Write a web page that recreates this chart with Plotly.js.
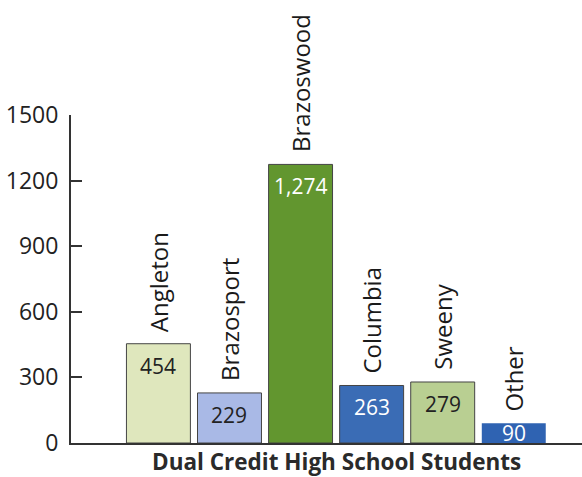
<!DOCTYPE html>
<html><head><meta charset="utf-8">
<script src="https://cdn.plot.ly/plotly-3.0.1.min.js"></script>
<style>html,body{margin:0;padding:0;background:#fff}#chart{width:582px;height:477px}</style>
</head><body><div id="chart"></div>
<script>
const categories = ["Angleton", "Brazosport", "Brazoswood", "Columbia", "Sweeny", "Other"];
const values = [454, 229, 1274, 263, 279, 90];
const valueLabels = ["454", "229", "1,274", "263", "279", "90"];
const barColors = ["#dfe7bd", "#a9b9e6", "#62962f", "#3a6cb5", "#b9cf92", "#2f63b2"];
const textColors = ["#222", "#222", "#fff", "#fff", "#222", "#fff"];
const lineColors = ["#444", "#444", "#444", "#444", "#444", "rgba(0,0,0,0)"];
const yTicks = [0, 300, 600, 900, 1200, 1500];
const xTitle = "Dual Credit High School Students";

const xs = categories.map((c, i) => i);
const font = "Open Sans, Noto Sans, sans-serif";

const trace = {
  type: "bar", x: xs, y: values, width: 0.9,
  marker: {color: barColors, line: {color: lineColors, width: 1}},
  hoverinfo: "none"
};

const annotations = [];
categories.forEach((c, i) => {
  annotations.push({x: i, y: values[i], xref: "x", yref: "y", text: c, textangle: -90,
    showarrow: false, yanchor: "bottom", xanchor: "center", yshift: 10,
    font: {family: font, size: 24, color: "#1a1a1a"}});
  annotations.push({x: i, y: Math.max(values[i] - 100, values[i] * 0.5), xref: "x", yref: "y",
    text: valueLabels[i], showarrow: false, yanchor: "middle", xanchor: "center", borderpad: 0,
    font: {family: font, size: 21, color: textColors[i]}});
});
annotations.push({x: 0.52, y: 0, xref: "paper", yref: "paper", yshift: -2, text: "<b>" + xTitle + "</b>",
  showarrow: false, xanchor: "center", yanchor: "top", borderpad: 0,
  font: {family: font, size: 22.5, color: "#2a2a2a"}});

const layout = {
  width: 582, height: 477,
  margin: {l: 71, r: 0, t: 115, b: 34},
  paper_bgcolor: "#fff", plot_bgcolor: "#fff",
  showlegend: false,
  xaxis: {range: [-1.23, 5.96], showticklabels: false, ticks: "", showgrid: false, zeroline: false,
    showline: true, linecolor: "#333", linewidth: 2},
  yaxis: {range: [0, 1500], tickvals: yTicks, ticktext: yTicks.map(String), ticks: "inside", ticklen: 11,
    tickwidth: 2, tickcolor: "#333", showgrid: false, zeroline: false, showline: true, linecolor: "#333", linewidth: 2,
    tickfont: {family: font, size: 23, color: "#222"}, ticklabelstandoff: 6},
  annotations: annotations
};
Plotly.newPlot("chart", [trace], layout, {staticPlot: true, displayModeBar: false});
</script></body></html>
